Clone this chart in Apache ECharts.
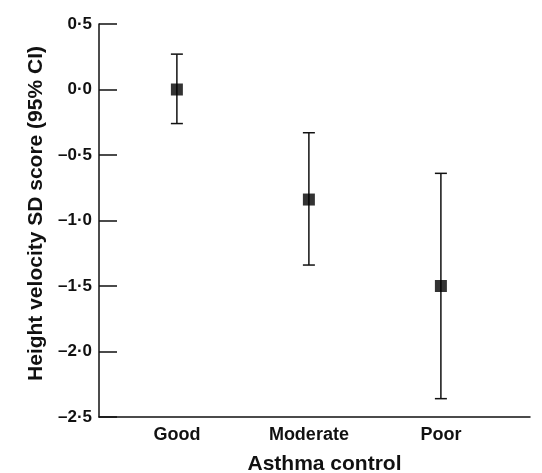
<!DOCTYPE html>
<html>
<head>
<meta charset="utf-8">
<script src="https://cdn.jsdelivr.net/npm/echarts@6/dist/echarts.min.js"></script>
<style>html,body{margin:0;padding:0;background:#fff;}#c{width:542px;height:473px;}</style>
</head>
<body>
<div id="c"></div>
<script>
const categories = ['Good', 'Moderate', 'Poor'];
const meanValues = [0.0, -0.84, -1.5];
const lowerCI = [-0.26, -1.34, -2.36];
const upperCI = [0.27, -0.33, -0.64];
const yTicks = [0.5, 0.0, -0.5, -1.0, -1.5, -2.0, -2.5];

const positions = categories.map((c, i) => i + 1);
const pointData = positions.map((p, i) => [p, meanValues[i]]);
const barData = positions.map((p, i) => [p, lowerCI[i], upperCI[i]]);

const fmt = v => v.toFixed(1).replace('.', '\u00b7').replace('-', '\u2013');
const FONT = 'Liberation Sans, Arial, Helvetica, sans-serif';

const chart = echarts.init(document.getElementById('c'), null, {renderer: 'canvas'});
chart.setOption({
  animation: false,
  backgroundColor: '#fff',
  grid: {left: 99, right: 12, top: 24, bottom: 56, containLabel: false, outerBoundsMode: 'none'},
  xAxis: {
    type: 'value',
    min: 0.41,
    max: 3.675,
    name: 'Asthma control',
    nameLocation: 'middle',
    nameGap: 37,
    nameTextStyle: {fontFamily: FONT, fontSize: 21, fontWeight: 'bold', color: '#111', padding: [0, 0, 0, 20]},
    axisLine: {show: true, onZero: false, lineStyle: {color: '#111', width: 1.5}},
    axisTick: {show: false},
    splitLine: {show: false},
    axisLabel: {
      customValues: positions,
      formatter: v => categories[Math.round(v) - 1] || '',
      fontFamily: FONT, fontSize: 18, fontWeight: 'bold', color: '#111', margin: 9
    }
  },
  yAxis: {
    type: 'value',
    min: -2.5,
    max: 0.5,
    interval: 0.5,
    name: 'Height velocity SD score (95% CI)',
    nameLocation: 'middle',
    nameGap: 52,
    nameTextStyle: {fontFamily: FONT, fontSize: 21, fontWeight: 'bold', color: '#111', padding: [0, 0, 0, 14]},
    axisLine: {show: true, lineStyle: {color: '#111', width: 1.5}},
    axisTick: {show: true, inside: true, length: 18, lineStyle: {color: '#111', width: 1.5}},
    splitLine: {show: false},
    axisLabel: {
      formatter: v => fmt(v),
      fontFamily: FONT, fontSize: 17, fontWeight: 'bold', color: '#111', margin: 7
    }
  },
  series: [
    {
      type: 'custom',
      data: barData,
      renderItem: function (params, api) {
        const x = api.value(0);
        const lo = api.coord([x, api.value(1)]);
        const hi = api.coord([x, api.value(2)]);
        const cap = 6;
        const style = {stroke: '#111', lineWidth: 1.5, fill: null};
        return {
          type: 'group',
          children: [
            {type: 'line', shape: {x1: lo[0], y1: lo[1], x2: hi[0], y2: hi[1]}, style: style},
            {type: 'line', shape: {x1: lo[0] - cap, y1: lo[1], x2: lo[0] + cap, y2: lo[1]}, style: style},
            {type: 'line', shape: {x1: hi[0] - cap, y1: hi[1], x2: hi[0] + cap, y2: hi[1]}, style: style}
          ]
        };
      },
      z: 2
    },
    {
      type: 'scatter',
      data: pointData,
      symbol: 'rect',
      symbolSize: 12,
      itemStyle: {color: '#000'},
      z: 3
    }
  ]
});
</script>
</body>
</html>
